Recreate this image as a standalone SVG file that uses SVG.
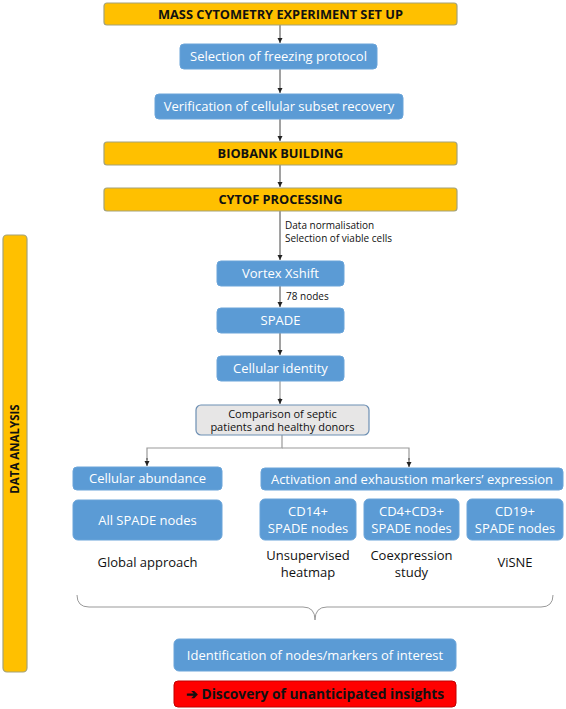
<svg xmlns="http://www.w3.org/2000/svg" width="566" height="709" viewBox="0 0 566 709">
<style>
text{font-family:"Open Sans","Liberation Sans",sans-serif;}
.or{fill:#ffc000;stroke:#a3a27a;stroke-width:1.2;}
.bl{fill:#5b9bd5;stroke:#6aa4d9;stroke-width:1;}
.gr{fill:#e7e6e6;stroke:#6d8fb3;stroke-width:1.2;}
.rd{fill:#ff0000;stroke:#c00000;stroke-width:1;}
.ht{font-size:12.8px;font-weight:bold;fill:#111;text-anchor:middle;}
.wt{font-size:13px;fill:#fff;text-anchor:middle;}
.kt{font-size:13px;fill:#111;text-anchor:middle;}
.st{font-size:10px;fill:#111;}
.ct{font-size:11px;fill:#111;text-anchor:middle;}
.ln{stroke:#444;stroke-width:1;fill:none;}
.gl{stroke:#999;stroke-width:1.2;fill:none;}
</style>
<defs>
<marker id="ah" markerWidth="6" markerHeight="6" refX="5" refY="3" orient="auto" markerUnits="userSpaceOnUse">
<path d="M0,0.5 L5,3 L0,5.5 Z" fill="#222"/>
</marker>
</defs>
<g id="connectors">
<line class="ln" x1="280" y1="25" x2="280" y2="43" marker-end="url(#ah)"/>
<line class="ln" x1="280" y1="69" x2="280" y2="93" marker-end="url(#ah)"/>
<line class="ln" x1="280" y1="119" x2="280" y2="141" marker-end="url(#ah)"/>
<line class="ln" x1="280" y1="165" x2="280" y2="187" marker-end="url(#ah)"/>
<line class="ln" x1="280" y1="211" x2="280" y2="260" marker-end="url(#ah)"/>
<line class="ln" x1="280" y1="286" x2="280" y2="307" marker-end="url(#ah)"/>
<line class="ln" x1="280" y1="333" x2="280" y2="355" marker-end="url(#ah)"/>
<line class="gl" x1="280" y1="381" x2="280" y2="403"/>
<line class="ln" x1="280" y1="398" x2="280" y2="404" marker-end="url(#ah)"/>
<polyline class="gl" points="282,435 282,448 147,448 147,460"/>
<line class="ln" x1="147" y1="458" x2="147" y2="466" marker-end="url(#ah)"/>
<polyline class="gl" points="282,448 409,448 409,460"/>
<line class="ln" x1="409" y1="458" x2="409" y2="467" marker-end="url(#ah)"/>
<path class="gl" style="stroke-width:1" d="M77,595 Q77,607 89,607 L303,607 Q315,607 315,620 Q315,607 327,607 L541,607 Q553,607 553,595"/>
</g>
<g id="n_setup"><rect class="or" x="104" y="3" width="353" height="22" rx="3"/><text class="ht" x="280.5" y="19">MASS CYTOMETRY EXPERIMENT SET UP</text></g>
<g id="n_freezing"><rect class="bl" x="180" y="44" width="197" height="25" rx="4"/><text class="wt" x="278.5" y="61">Selection of freezing protocol</text></g>
<g id="n_verification"><rect class="bl" x="155" y="94" width="248" height="25" rx="4"/><text class="wt" x="279" y="111">Verification of cellular subset recovery</text></g>
<g id="n_biobank"><rect class="or" x="104" y="142" width="353" height="23" rx="3"/><text class="ht" x="280.5" y="158">BIOBANK BUILDING</text></g>
<g id="n_cytof"><rect class="or" x="104" y="188" width="353" height="23" rx="3"/><text class="ht" x="280.5" y="204">CYTOF PROCESSING</text></g>
<g id="lbl_norm"><text class="st" x="285" y="229">Data normalisation</text><text class="st" x="285" y="242">Selection of viable cells</text></g>
<g id="n_data"><rect class="or" x="3" y="235" width="24" height="437" rx="4"/><text class="ht" style="font-size:11.5px" transform="translate(19,449) rotate(-90)" x="0" y="0">DATA ANALYSIS</text></g>
<g id="n_vortex"><rect class="bl" x="217" y="261" width="127" height="25" rx="4"/><text class="wt" x="280.5" y="278">Vortex Xshift</text></g>
<g id="lbl_78"><text class="st" x="286" y="300">78 nodes</text></g>
<g id="n_spade"><rect class="bl" x="217" y="308" width="127" height="25" rx="4"/><text class="wt" x="280.5" y="325">SPADE</text></g>
<g id="n_identity"><rect class="bl" x="217" y="356" width="127" height="25" rx="4"/><text class="wt" x="280.5" y="373">Cellular identity</text></g>
<g id="n_comparison"><rect class="gr" x="196" y="405" width="173" height="30" rx="5"/><text class="ct" x="282.5" y="417.5">Comparison of septic</text><text class="ct" x="282.5" y="431">patients and healthy donors</text></g>
<g id="n_abundance"><rect class="bl" x="73" y="467" width="149" height="23" rx="4"/><text class="wt" x="147.5" y="483">Cellular abundance</text></g>
<g id="n_allspade"><rect class="bl" x="73" y="500" width="149" height="40" rx="5"/><text class="wt" x="147.5" y="525">All SPADE nodes</text></g>
<g id="lbl_global"><text class="kt" x="147.5" y="567">Global approach</text></g>
<g id="n_activation"><rect class="bl" x="261" y="468" width="302" height="22" rx="4"/><text class="wt" x="412" y="484">Activation and exhaustion markers’ expression</text></g>
<g id="n_cd14"><rect class="bl" x="260" y="499" width="96" height="41" rx="5"/><text class="wt" x="308" y="516">CD14+</text><text class="wt" x="308" y="533">SPADE nodes</text></g>
<g id="n_cd4"><rect class="bl" x="364" y="499" width="95" height="41" rx="5"/><text class="wt" x="411.5" y="516">CD4+CD3+</text><text class="wt" x="411.5" y="533">SPADE nodes</text></g>
<g id="n_cd19"><rect class="bl" x="467" y="499" width="96" height="41" rx="5"/><text class="wt" x="515" y="516">CD19+</text><text class="wt" x="515" y="533">SPADE nodes</text></g>
<g id="lbl_heatmap"><text class="kt" x="308" y="560">Unsupervised</text><text class="kt" x="308" y="577">heatmap</text></g>
<g id="lbl_coexp"><text class="kt" x="411.5" y="560">Coexpression</text><text class="kt" x="411.5" y="577">study</text></g>
<g id="lbl_visne"><text class="kt" x="515" y="567">ViSNE</text></g>
<g id="n_identification"><rect class="bl" x="174" y="639" width="282" height="32" rx="5"/><text class="wt" x="315" y="660">Identification of nodes/markers of interest</text></g>
<g id="n_discovery"><rect class="rd" x="174" y="681" width="282" height="26" rx="4"/><text class="ht" style="font-size:13.8px" x="315" y="699">➔ Discovery of unanticipated insights</text></g>
</svg>
